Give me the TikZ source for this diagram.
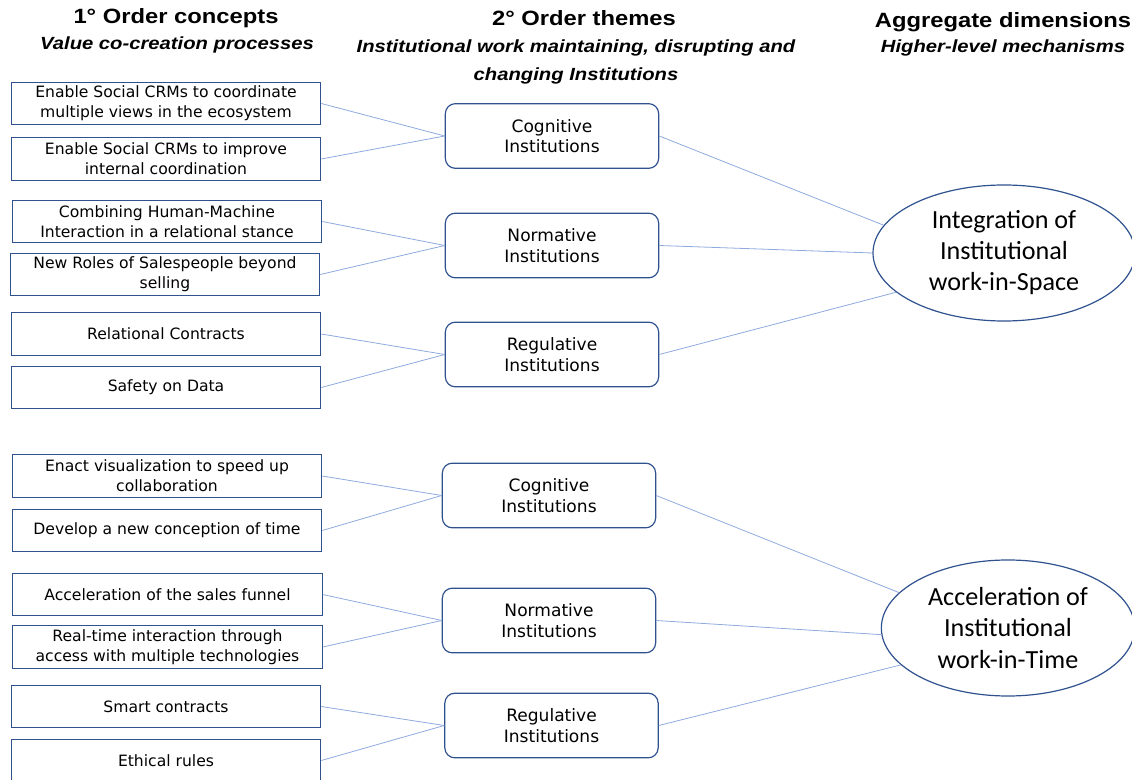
\documentclass[tikz,border=0pt]{standalone}
\usepackage{fontspec}
\setmainfont{DejaVu Sans}
\newfontfamily\headfont[FakeStretch=1.15]{Liberation Sans}
\newfontfamily\dimfont{Carlito}
\usetikzlibrary{shapes.geometric}
\definecolor{boxblue}{RGB}{47,82,143}
\definecolor{linkblue}{RGB}{143,170,222}

\begin{document}
\begin{tikzpicture}[x=0.75pt,y=-0.75pt,
	concept/.style={draw=boxblue,line width=0.9pt,minimum width=232pt,minimum height=32pt,inner sep=0pt,align=center,font=\fontsize{11.7}{15}\selectfont},
	theme/.style={draw=boxblue,line width=0.9pt,rounded corners=7.5pt,minimum width=160pt,minimum height=48.5pt,inner sep=0pt,align=center,font=\fontsize{12.8}{15.3}\selectfont},
	dimension/.style={ellipse,draw=boxblue,line width=0.9pt,inner sep=0pt,minimum height=102pt,align=center,font=\dimfont\fontsize{19.6}{23.3}\selectfont},
	head/.style={font=\headfont\bfseries\fontsize{15.5}{18}\selectfont},
	subhead/.style={align=center,font=\headfont\bfseries\itshape\fontsize{13.2}{21}\selectfont},
	link/.style={-,draw=linkblue,line width=0.6pt}]
	%\draw[help lines] (0,0) grid (1132,780);
	\useasboundingbox (0,0) rectangle (1132,780);

	\node[head] (h1) at (176,18) {1° Order concepts};
	\node[subhead] (s1) at (177,45) {Value co-creation processes};
	\node[head] (h2) at (584,18) {2° Order themes};
	\node[subhead] (s2) at (576,62) {Institutional work maintaining, disrupting and\\changing Institutions};
	\node[head] (h3) at (1003,22) {Aggregate dimensions};
	\node[subhead] (s3) at (1003,48) {Higher-level mechanisms};

	\node[concept] (c1) at (166,103.5) {Enable Social CRMs to coordinate\\multiple views in the ecosystem};
	\node[concept] (c2) at (166,159) {Enable Social CRMs to improve\\internal coordination};
	\node[concept] (c3) at (167,221.5) {Combining Human-Machine\\Interaction in a relational stance};
	\node[concept] (c4) at (165,274.5) {New Roles of Salespeople beyond\\selling};
	\node[concept] (c5) at (166,334) {Relational Contracts};
	\node[concept] (c6) at (166,387.5) {Safety on Data};
	\node[concept] (c7) at (167,476) {Enact visualization to speed up\\collaboration};
	\node[concept] (c8) at (167,530.5) {Develop a new conception of time};
	\node[concept] (c9) at (167.5,594.5) {Acceleration of the sales funnel};
	\node[concept] (c10) at (167.5,647) {Real-time interaction through\\access with multiple technologies};
	\node[concept] (c11) at (166,706.5) {Smart contracts};
	\node[concept] (c12) at (166,760.5) {Ethical rules};

	\node[theme] (t1) at (552,136) {Cognitive\\Institutions};
	\node[theme] (t2) at (552,245.5) {Normative\\Institutions};
	\node[theme] (t3) at (552,354.5) {Regulative\\Institutions};
	\node[theme] (t4) at (549,495.5) {Cognitive\\Institutions};
	\node[theme] (t5) at (549,620.5) {Normative\\Institutions};
	\node[theme] (t6) at (551.5,725.5) {Regulative\\Institutions};

	\node[dimension,minimum width=196.5pt] (d1) at (1004,253) {Integration of\\Institutional\\work-in-Space};
	\node[dimension,minimum width=190pt] (d2) at (1008,628) {Acceleration of\\Institutional\\work-in-Time};

	\path[link] (c1.east) edge (t1.west);
	\path[link] (c2.east) edge (t1.west);
	\path[link] (c3.east) edge (t2.west);
	\path[link] (c4.east) edge (t2.west);
	\path[link] (c5.east) edge (t3.west);
	\path[link] (c6.east) edge (t3.west);
	\path[link] (c7.east) edge (t4.west);
	\path[link] (c8.east) edge (t4.west);
	\path[link] (c9.east) edge (t5.west);
	\path[link] (c10.east) edge (t5.west);
	\path[link] (c11.east) edge (t6.west);
	\path[link] (c12.east) edge (t6.west);

	\path[link] (t1.east) edge (d1.167);
	\path[link] (t2.east) edge (d1.180);
	\path[link] (t3.east) edge (d1.200);
	\path[link] (t4.east) edge (d2.162);
	\path[link] (t5.east) edge (d2.183);
	\path[link] (t6.east) edge (d2.199);
\end{tikzpicture}
\end{document}
